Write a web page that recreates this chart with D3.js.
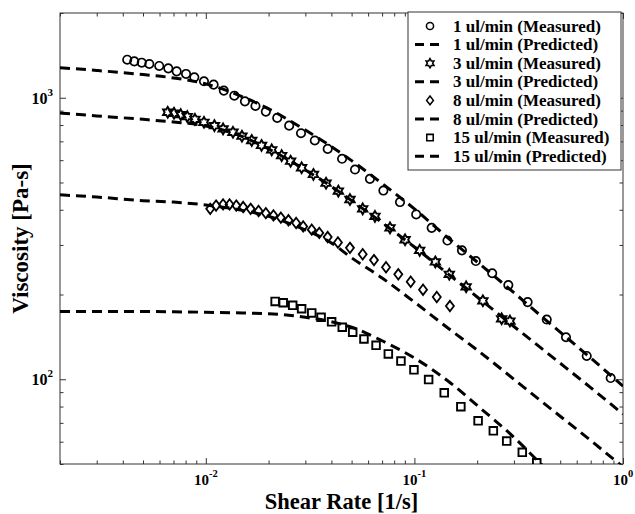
<!DOCTYPE html>
<html>
<head>
<meta charset="utf-8">
<script src="https://cdn.jsdelivr.net/npm/d3@7"></script>
<style>
  body { margin: 0; background: #fff; }
  text { font-family: "Liberation Serif", "Times New Roman", serif; font-weight: bold; fill: #000; }
</style>
</head>
<body>
<div id="chart"></div>
<script>
// measured data [shear rate 1/s, viscosity Pa-s]
const meas1 = [[0.00420,1365],[0.00454,1346],[0.00493,1332],[0.00536,1318],[0.00598,1297],[0.00661,1272],[0.00725,1241],[0.00804,1215],[0.00881,1182],[0.00980,1144],[0.0109,1113],[0.0122,1060],[0.0137,1017],[0.0154,971],[0.0173,935],[0.0194,893],[0.0220,848],[0.0251,796],[0.0286,748],[0.0333,705],[0.0384,658],[0.0450,607],[0.0519,556],[0.0612,515],[0.0710,468],[0.0853,426],[0.102,385],[0.121,345],[0.144,311],[0.169,287],[0.197,263],[0.236,238],[0.282,216],[0.349,188],[0.431,163],[0.533,141],[0.670,121],[0.873,101]];
const meas3 = [[0.00657,888],[0.00704,881],[0.00758,871],[0.00815,857],[0.00887,838],[0.00980,818],[0.0110,796],[0.0121,775],[0.0135,754],[0.0149,730],[0.0166,705],[0.0185,677],[0.0207,653],[0.0231,623],[0.0255,595],[0.0288,564],[0.0328,534],[0.0377,497],[0.0432,466],[0.0491,435],[0.0565,403],[0.0647,379],[0.0764,345],[0.0902,313],[0.106,287],[0.126,261],[0.147,236],[0.177,213],[0.213,190],[0.262,164],[0.287,161]];
const meas8 = [[0.0105,403],[0.0112,414],[0.0121,418],[0.0130,418],[0.0140,414],[0.0151,409],[0.0164,403],[0.0179,396],[0.0194,389],[0.0211,382],[0.0229,375],[0.0249,367],[0.0271,359],[0.0293,349],[0.0322,340],[0.0350,331],[0.0384,320],[0.0430,306],[0.0491,293],[0.0565,278],[0.0640,265],[0.0731,250],[0.0837,236],[0.0960,222],[0.110,208],[0.128,196],[0.148,182]];
const meas15 = [[0.0215,189],[0.0235,187],[0.0261,183],[0.0288,178],[0.0322,172],[0.0357,166],[0.0401,160],[0.0451,153],[0.0506,147],[0.0573,139],[0.0655,132],[0.0750,123],[0.0862,116],[0.0995,108],[0.117,99.7],[0.139,89.5],[0.167,79.9],[0.202,71.2],[0.239,65.6],[0.277,60.3],[0.329,55.0],[0.386,50.5]];

// predicted curves, read at these shear rates
const predRate = [0.002,0.003,0.005,0.007,0.01,0.015,0.02,0.03,0.04,0.05,0.07,0.1,0.15,0.2,0.3,0.4,0.5,0.7,1];
const pred1 = [1279,1250,1209,1176,1120,1008,913,768,671,598,496,403,311,261,203,169,147,119,94.5];
const pred3 = [882,862,838,820,794,727,658,554,484,431,360,295,232,196,154,130,114,93.4,75.2];
const pred8 = [452,444,431,426,416,398,379,339,305,270,229,188,149,127,100,84.3,73.9,60.6,48.8];
const pred15 = [174,174,174,173.6,173,172,171,166,160,153,137,119,96.6,80.7,62.2,50.4,43];

const legendLabels = ["1 ul/min (Measured)","1 ul/min (Predicted)","3 ul/min (Measured)","3 ul/min (Predicted)",
                      "8 ul/min (Measured)","8 ul/min (Predicted)","15 ul/min (Measured)","15 ul/min (Predicted)"];
const xTickExp = [-2, -1, 0];
const yTickExp = [2, 3];

const width = 635, height = 514;
const margin = { top: 13, right: 12, bottom: 50, left: 60 };
const w = width - margin.left - margin.right;
const h = height - margin.top - margin.bottom;

const svg = d3.select("#chart").append("svg")
    .attr("width", width)
    .attr("height", height);

const g = svg.append("g")
    .attr("transform", `translate(${margin.left},${margin.top})`);

const x = d3.scaleLog().domain([0.002, 1]).range([0, w]);
const y = d3.scaleLog().domain([50, 2000]).range([h, 0]);

// ticks, all pointing inward (matlab style)
const allX = x.ticks(), allY = y.ticks();
const isMajor = v => Math.abs(Math.log10(v) - Math.round(Math.log10(v))) < 1e-9;
const majX = allX.filter(isMajor), minX = allX.filter(v => !isMajor(v));
const majY = allY.filter(isMajor), minY = allY.filter(v => !isMajor(v));

function ticks(gen, vals, size, tr) {
    g.append("g")
        .attr("transform", tr)
        .call(gen.tickValues(vals).tickSize(-size).tickSizeOuter(0).tickFormat(""))
        .call(s => s.select(".domain").remove())
        .call(s => s.selectAll("line").attr("stroke", "#333"));
}
ticks(d3.axisBottom(x), majX, 6, `translate(0,${h})`);
ticks(d3.axisBottom(x), minX, 3.5, `translate(0,${h})`);
ticks(d3.axisTop(x), majX, 6, "translate(0,0)");
ticks(d3.axisTop(x), minX, 3.5, "translate(0,0)");
ticks(d3.axisLeft(y), majY, 6, "translate(0,0)");
ticks(d3.axisLeft(y), minY, 3.5, "translate(0,0)");
ticks(d3.axisRight(y), majY, 6, `translate(${w},0)`);
ticks(d3.axisRight(y), minY, 3.5, `translate(${w},0)`);

g.append("rect")
    .attr("width", w).attr("height", h)
    .attr("fill", "none").attr("stroke", "#333").attr("stroke-width", 1);

// tick labels 10^n
xTickExp.forEach(e => {
    const t = g.append("text")
        .attr("x", x(Math.pow(10, e)))
        .attr("y", h + 21)
        .attr("text-anchor", "middle")
        .style("font-size", "15px");
    t.append("tspan").text("10");
    t.append("tspan").attr("dy", -8).style("font-size", "10.5px").text(e);
});
yTickExp.forEach(e => {
    const t = g.append("text")
        .attr("x", -7)
        .attr("y", y(Math.pow(10, e)) + 6)
        .attr("text-anchor", "end")
        .style("font-size", "16px");
    t.append("tspan").text("10");
    t.append("tspan").attr("dy", -8).style("font-size", "11px").text(e);
});

// axis titles
g.append("text")
    .attr("x", w / 2)
    .attr("y", h + 45)
    .attr("text-anchor", "middle")
    .style("font-size", "22.5px")
    .text("Shear Rate [1/s]");

g.append("text")
    .attr("text-anchor", "middle")
    .attr("transform", `translate(${-32}, ${h / 2}) rotate(-90)`)
    .style("font-size", "23px")
    .text("Viscosity [Pa-s]");

// predicted curves
svg.append("clipPath").attr("id", "clip")
    .append("rect").attr("width", w).attr("height", h);

const line = d3.line()
    .x(d => x(d[0]))
    .y(d => y(d[1]))
    .curve(d3.curveMonotoneX);

const plot = g.append("g").attr("clip-path", "url(#clip)");

[pred1, pred3, pred8, pred15].forEach(p => {
    plot.append("path")
        .datum(p.map((v, i) => [predRate[i], v]))
        .attr("fill", "none")
        .attr("stroke", "#000")
        .attr("stroke-width", 3)
        .attr("stroke-dasharray", "10,6")
        .attr("d", line);
});

// marker shapes
function hexagram(r) {
    const pts = d3.range(12).map(k => {
        const a = k * Math.PI / 6 - Math.PI / 2;
        const rr = k % 2 === 0 ? r : r / Math.sqrt(3);
        return [rr * Math.cos(a), rr * Math.sin(a)];
    });
    return "M" + pts.join("L") + "Z";
}
const shapes = {
    circle: () => "M4.2,0A4.2,4.2 0 1,1 -4.2,0A4.2,4.2 0 1,1 4.2,0Z",
    star: () => hexagram(5.4),
    diamond: () => "M0,-5.2L4,0L0,5.2L-4,0Z",
    square: () => "M-3.8,-3.8H3.8V3.8H-3.8Z"
};

function markers(data, shape, sw) {
    plot.append("g").selectAll("path")
        .data(data)
        .join("path")
        .attr("transform", d => `translate(${x(d[0])},${y(d[1])})`)
        .attr("d", shapes[shape]())
        .attr("fill", "none")
        .attr("stroke", "#000")
        .attr("stroke-width", sw);
}
markers(meas1, "circle", 1.7);
markers(meas3, "star", 1.9);
markers(meas8, "diamond", 1.8);
markers(meas15, "square", 1.9);

// legend
const legend = svg.append("g").attr("transform", "translate(408,12)");
legend.append("rect")
    .attr("width", 213).attr("height", 158)
    .attr("fill", "#fff").attr("stroke", "#333").attr("stroke-width", 1);

const legendShapes = ["circle", "dash", "star", "dash", "diamond", "dash", "square", "dash"];
legendLabels.forEach((lab, i) => {
    const cy = 14 + i * 18.6;
    if (legendShapes[i] === "dash") {
        legend.append("line")
            .attr("x1", 7).attr("x2", 31).attr("y1", cy).attr("y2", cy)
            .attr("stroke", "#000").attr("stroke-width", 3)
            .attr("stroke-dasharray", "9,6");
    } else {
        legend.append("path")
            .attr("transform", `translate(22,${cy}) scale(0.85)`)
            .attr("d", shapes[legendShapes[i]]())
            .attr("fill", "none").attr("stroke", "#000").attr("stroke-width", 1.8);
    }
    legend.append("text")
        .attr("x", 45)
        .attr("y", cy + 5.5)
        .style("font-size", "17px")
        .text(lab);
});
</script>
</body>
</html>
